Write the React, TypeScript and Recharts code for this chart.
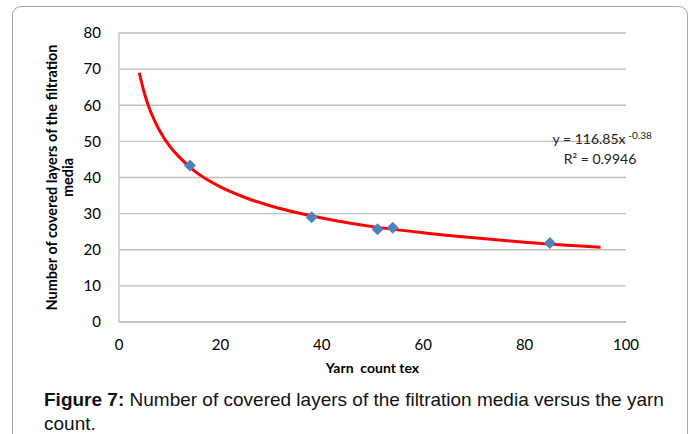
import React from 'react';
import { ComposedChart, Scatter, Line, XAxis, YAxis, CartesianGrid, ReferenceDot } from 'recharts';

// measured points (yarn count tex vs covered layers)
const yarnCount = [14, 38, 51, 54, 85];
const coveredLayers = [43.3, 29.0, 25.7, 26.1, 21.9];

// power trendline
const trendX = [4, 5, 6, 7, 8, 9, 10, 12, 15, 20, 25, 30, 35, 40, 50, 60, 70, 80, 95];
const trendY = [69, 63.4, 59.1, 55.8, 53.0, 50.7, 48.7, 45.5, 41.7, 37.4, 34.4, 32.1, 30.3, 28.8, 26.4, 24.7, 23.3, 22.1, 20.7];

const xTicks = [0, 20, 40, 60, 80, 100];
const yTicks = [0, 10, 20, 30, 40, 50, 60, 70, 80];

const points = yarnCount.map((x, i) => ({ x, y: coveredLayers[i] }));
const trend = trendX.map((x, i) => ({ x, y: trendY[i] }));

const FONT = 'Lato, "Open Sans", sans-serif';

const Diamond = (props: any) => {
  const { cx, cy } = props;
  const r = 6;
  return (
    <polygon
      points={`${cx},${cy - r} ${cx + r},${cy} ${cx},${cy + r} ${cx - r},${cy}`}
      fill="#4f81bd"
    />
  );
};

const YLabel = (props: any) => {
  const { viewBox } = props;
  const cy = viewBox.y + viewBox.height / 2;
  return (
    <text
      transform={`translate(57, ${cy}) rotate(-90)`}
      textAnchor="middle"
      fontFamily={FONT}
      fontSize={14.5}
      fontWeight={700}
      fill="#000"
    >
      <tspan x={0} dy={0}>Number of covered layers of the filtration</tspan>
      <tspan x={0} dy={16}>media</tspan>
    </text>
  );
};

const Equation = (props: any) => {
  const { viewBox } = props;
  const x = viewBox.x + 8;
  const y = viewBox.y;
  return (
    <text fontFamily={FONT} fontSize={14} fill="#222" textAnchor="middle">
      <tspan x={x - 11} y={y + 4}>y = 116.85x</tspan>
      <tspan x={x + 40} y={y - 1} fontSize={10}>-0.38</tspan>
      <tspan x={x} y={y + 24}>R² = 0.9946</tspan>
    </text>
  );
};

const captionStyle: React.CSSProperties = {
  fontFamily: '"Liberation Sans", Arial, sans-serif',
  fontSize: 19,
  lineHeight: '24px',
  color: '#111',
  whiteSpace: 'nowrap',
};

export default function App() {
  return (
    <div style={{ position: 'fixed', left: 0, top: 0, width: 694, height: 434, background: '#fff', overflow: 'hidden' }}>
      <div
        style={{
          position: 'absolute',
          left: 12,
          top: 6,
          width: 676,
          height: 460,
          border: '1px solid #a6a6a6',
          borderRadius: 9,
          boxSizing: 'border-box',
        }}
      />
      <div style={{ position: 'absolute', left: 0, top: 0 }}>
        <ComposedChart width={694} height={380} margin={{ top: 33, right: 68, bottom: 0, left: 0 }}>
          <CartesianGrid vertical={false} stroke="#bfbfbf" strokeWidth={1.3} />
          <XAxis
            dataKey="x"
            type="number"
            domain={[0, 100]}
            ticks={xTicks}
            tickLine={false}
            axisLine={{ stroke: '#bfbfbf', strokeWidth: 1.3 }}
            tick={{ fill: '#000', fontSize: 15, fontFamily: FONT }}
            tickMargin={11}
            height={58}
            label={{
              value: 'Yarn\u00a0 count tex',
              position: 'insideBottom',
              offset: 7,
              style: { fontFamily: FONT, fontSize: 14, fontWeight: 700, fill: '#000' },
            }}
          />
          <YAxis
            dataKey="y"
            type="number"
            domain={[0, 80]}
            ticks={yTicks}
            tickLine={false}
            axisLine={{ stroke: '#bfbfbf', strokeWidth: 1.3 }}
            tick={{ fill: '#000', fontSize: 15, fontFamily: FONT }}
            tickMargin={12}
            width={119}
            label={<YLabel />}
          />
          <Line
            data={trend}
            dataKey="y"
            type="monotone"
            stroke="#ff0000"
            strokeWidth={3}
            dot={false}
            activeDot={false}
            isAnimationActive={false}
          />
          <Scatter data={points} dataKey="y" shape={<Diamond />} isAnimationActive={false} />
          <ReferenceDot x={93.3} y={50.4} r={0} stroke="none" fill="none" label={<Equation />} />
        </ComposedChart>
      </div>
      <div style={{ position: 'absolute', left: 44, top: 388 }}>
        <div style={captionStyle}>
          <b>Figure 7:</b> Number of covered layers of the filtration media versus the yarn
        </div>
        <div style={captionStyle}>count.</div>
      </div>
    </div>
  );
}
